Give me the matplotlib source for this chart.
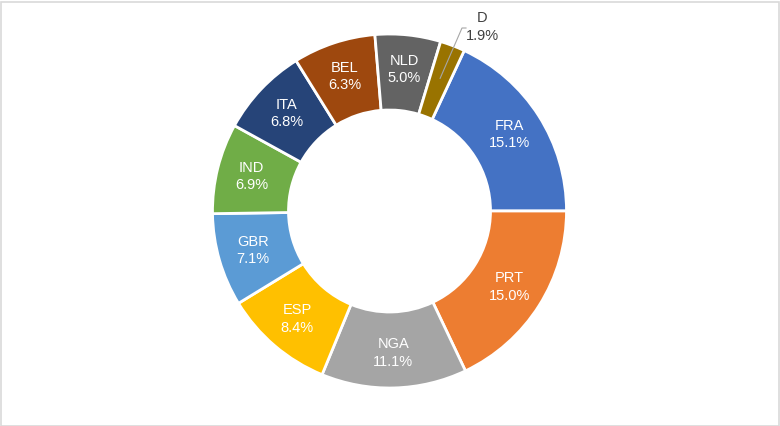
import matplotlib.pyplot as plt
import numpy as np

plt.rcParams["font.family"] = ["Liberation Sans", "DejaVu Sans"]

countries = ["FRA", "PRT", "NGA", "ESP", "GBR", "IND", "ITA", "BEL", "NLD", "D"]
shares = [15.1, 15.0, 11.1, 8.4, 7.1, 6.9, 6.8, 6.3, 5.0, 1.9]
colors = ["#4472C4", "#ED7D31", "#A5A5A5", "#FFC000", "#5B9BD5",
          "#70AD47", "#264478", "#9E480E", "#636363", "#997300"]

W, H = 780, 426
CX, CY = 389.5, H - 211
R_OUT, R_IN = 177, 101
R_LABEL = 142

fig = plt.figure(figsize=(W / 100, H / 100), dpi=100)
ax = fig.add_axes([0, 0, 1, 1])

# FRA ends at 3 o'clock
start = 360 * shares[0] / sum(shares)
wedges, _ = ax.pie(shares, colors=colors, startangle=start, counterclock=False,
                   center=(CX, CY), radius=R_OUT, frame=True,
                   wedgeprops=dict(width=R_OUT - R_IN, edgecolor="white", linewidth=2))

for w, name, val in zip(wedges, countries, shares):
    mid = np.deg2rad((w.theta1 + w.theta2) / 2)
    x = CX + R_LABEL * np.cos(mid)
    y = CY + R_LABEL * np.sin(mid)
    text = f"{name}\n{val:.1f}%"
    if name == "D":
        # outside label with leader line
        lx, ly = 482, H - 27
        ax.plot([x, 462, 466], [y, ly - 1, ly - 1], color="#a6a6a6", lw=0.8)
        ax.text(lx, ly, text, ha="center", va="center", fontsize=10.5,
                color="#404040", linespacing=1.3)
    else:
        ax.text(x, y, text, ha="center", va="center", fontsize=10.5,
                color="white", linespacing=1.3)

ax.set_xlim(0, W)
ax.set_ylim(0, H)
ax.set_aspect("equal")
ax.axis("off")

fig.patches.append(plt.Rectangle((0.5 / W, 0.5 / H), 1 - 2 / W, 1 - 2 / H,
                                 transform=fig.transFigure, fill=False,
                                 edgecolor="#d9d9d9", linewidth=1.2))

fig.savefig("out.png", dpi=100)
